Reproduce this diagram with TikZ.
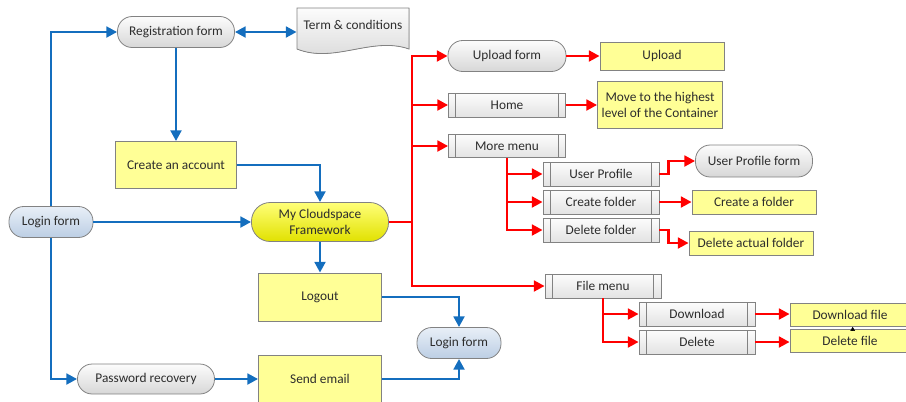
\documentclass[tikz,border=0pt]{standalone}
\usepackage{fontspec}
\setmainfont{Carlito}
\usetikzlibrary{arrows.meta}
\definecolor{flowblue}{RGB}{20,110,190}
\definecolor{flowred}{RGB}{255,0,0}
\definecolor{boxyellow}{RGB}{255,255,150}
\definecolor{edgegray}{RGB}{130,130,130}
\definecolor{pilltop}{RGB}{252,252,252}
\definecolor{pillbot}{RGB}{215,215,215}
\definecolor{bluetop}{RGB}{232,239,247}
\definecolor{bluebot}{RGB}{188,206,228}
\definecolor{cloudtop}{RGB}{255,255,120}
\definecolor{cloudbot}{RGB}{225,225,0}
\definecolor{inktext}{RGB}{45,45,45}

\begin{document}
\begin{tikzpicture}[x=0.75pt,y=-0.75pt,
  base/.style={draw=edgegray, line width=0.6pt, inner sep=0pt, align=center,
    font=\fontsize{10}{11.6}\selectfont, text=inktext},
  pill/.style={base, rounded corners=11pt, top color=pilltop, bottom color=pillbot},
  bluepill/.style={base, rounded corners=11pt, top color=bluetop, bottom color=bluebot},
  cloudpill/.style={base, rounded corners=14pt, top color=cloudtop, bottom color=cloudbot},
  yellowbox/.style={base, fill=boxyellow},
  subbox/.style={base, top color=pilltop, bottom color=pillbot!70!white,
    path picture={
      \draw[edgegray, line width=0.6pt]
        ([xshift=5.5pt]path picture bounding box.north west) -- ([xshift=5.5pt]path picture bounding box.south west)
        ([xshift=-5.5pt]path picture bounding box.north east) -- ([xshift=-5.5pt]path picture bounding box.south east);
    }},
  bluearrow/.style={draw=flowblue, line width=2.2pt, -{Triangle[length=8pt,width=8pt]}},
  redarrow/.style={draw=flowred, line width=2.2pt, -{Triangle[length=8pt,width=8pt]}},
  redline/.style={draw=flowred, line width=2.2pt},
]
\useasboundingbox (0,0) rectangle (906,401);
\clip (0,0) rectangle (906,401);

% ---------- left (blue) part ----------
\node[pill, minimum width=87.75pt, minimum height=23.25pt] (reg) at (176,32) {Registration form};

% document shape for the terms
\filldraw[draw=edgegray, line width=0.6pt, top color=pilltop, bottom color=pillbot]
  (297,8) -- (409,8) -- (409,49) .. controls (372,36) and (334,64) .. (297,49) -- cycle;
\node[base, draw=none, minimum width=84pt] (terms) at (353,25) {Term \& conditions};

\node[bluepill, minimum width=63pt, minimum height=23.25pt] (login) at (51,222) {Login form};
\node[yellowbox, minimum width=90.75pt, minimum height=35.25pt] (create) at (176,165) {Create an account};
\node[cloudpill, minimum width=102.75pt, minimum height=29.25pt] (cloud) at (320,222) {My Cloudspace\\Framework};
\node[yellowbox, minimum width=92.25pt, minimum height=36pt] (logout) at (320,297) {Logout};
\node[bluepill, minimum width=63pt, minimum height=23.25pt] (login2) at (459,343) {Login form};
\node[pill, minimum width=102.75pt, minimum height=22.5pt] (pwd) at (146,379) {Password recovery};
\node[yellowbox, minimum width=92.25pt, minimum height=36pt] (send) at (320,379) {Send email};

\draw[bluearrow] (login.north) |- (reg.west);
\draw[draw=flowblue, line width=2.2pt, {Triangle[length=8pt,width=8pt]}-{Triangle[length=8pt,width=8pt]}]
  (reg.east) -- (reg.east -| terms.west);
\draw[bluearrow] (reg.south) -- (create.north);
\draw[bluearrow] (create.east) -| (cloud.north);
\draw[bluearrow] (login.east) -- (cloud.west);
\draw[bluearrow] (cloud.south) -- (logout.north);
\draw[bluearrow] (logout.east) -| (login2.north);
\draw[bluearrow] (login.south) |- (pwd.west);
\draw[bluearrow] (pwd.east) -- (send.west);
\draw[bluearrow] (send.east) -| (login2.south);

% ---------- right (red) part ----------
\node[pill, minimum width=88.5pt, minimum height=23.25pt] (upform) at (507,56) {Upload form};
\node[yellowbox, minimum width=93pt, minimum height=21pt] (upload) at (662,56) {Upload};
\node[subbox, minimum width=87.75pt, minimum height=18pt] (home) at (507,105) {Home};
\node[yellowbox, minimum width=93.75pt, minimum height=35.25pt] (move) at (660,105) {Move to the highest\\level of the Container};
\node[subbox, minimum width=87.75pt, minimum height=17.5pt] (more) at (507,146) {More menu};
\node[subbox, minimum width=87pt, minimum height=18pt] (uprof) at (601,174) {User Profile};
\node[subbox, minimum width=87pt, minimum height=18pt] (cfold) at (601,202) {Create folder};
\node[subbox, minimum width=87pt, minimum height=18pt] (dfold) at (601,230) {Delete folder};
\node[pill, minimum width=87.75pt, minimum height=24pt] (uform) at (754,161) {User Profile form};
\node[yellowbox, minimum width=93pt, minimum height=18pt] (cafold) at (754,202) {Create a folder};
\node[yellowbox, minimum width=93pt, minimum height=18pt] (dafold) at (751,243) {Delete actual folder};
\node[subbox, minimum width=87pt, minimum height=18pt] (fmenu) at (603,286) {File menu};
\node[subbox, minimum width=87pt, minimum height=18pt] (dload) at (697,314) {Download};
\node[subbox, minimum width=87pt, minimum height=18pt] (dele) at (697,342) {Delete};
\node[yellowbox, minimum width=90pt, minimum height=17.25pt] (dlfile) at (850,315) {Download file};
\node[yellowbox, minimum width=90pt, minimum height=17.25pt] (delfile) at (850,341) {Delete file};

\coordinate (trunk) at (412,222);
\draw[redline] (cloud.east) -- (trunk);
\draw[redarrow] (trunk) |- (upform.west);
\draw[redarrow] (trunk) |- (home.west);
\draw[redarrow] (trunk) |- (more.west);
\draw[redarrow] (trunk) |- (fmenu.west);
\draw[redarrow] (upform.east) -- (upform.east -| upload.west);
\draw[redarrow] (home.east) -- (home.east -| move.west);
\draw[redarrow] (more.south) |- (uprof.west);
\draw[redarrow] (more.south) |- (cfold.west);
\draw[redarrow] (more.south) |- (dfold.west);
\draw[redarrow] (uprof.east) -- ++(9,0) |- (uform.west);
\draw[redarrow] (cfold.east) -- (cfold.east -| cafold.west);
\draw[redarrow] (dfold.east) -- ++(9,0) |- (dafold.west);
\draw[redarrow] (fmenu.south) |- (dload.west);
\draw[redarrow] (fmenu.south) |- (dele.west);
\draw[redarrow] (dload.east) -- (dload.east -| dlfile.west);
\draw[redarrow] (dele.east) -- (dele.east -| delfile.west);

% small link between the two file boxes
\draw[black, line width=0.4pt, -{Triangle[length=3pt,width=3.5pt]}]
  ([xshift=2pt]delfile.north) -- ([xshift=2pt]dlfile.south);
\end{tikzpicture}
\end{document}
